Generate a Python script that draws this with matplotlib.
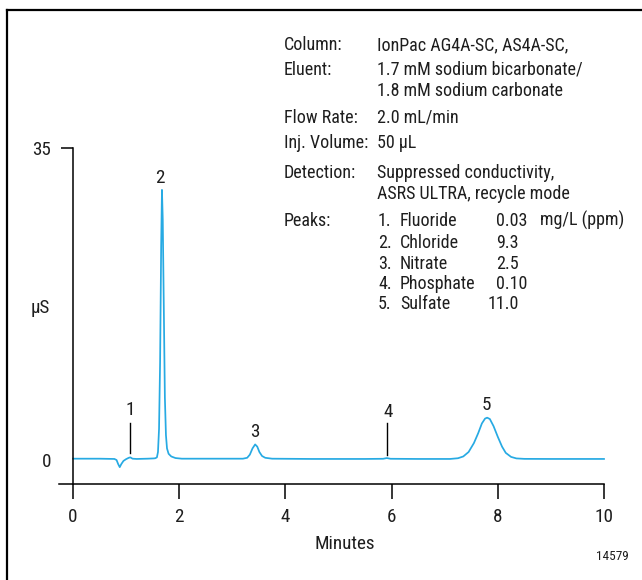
import matplotlib
matplotlib.use("Agg")
import matplotlib.pyplot as plt
from matplotlib.lines import Line2D
from matplotlib import font_manager as fm

# ---------------- data ----------------
time_min = [0.00, 0.50, 0.78, 0.82, 0.85, 0.88, 0.91, 0.95, 1.00, 1.05, 1.08, 1.12,
            1.20, 1.40, 1.52, 1.55, 1.58, 1.60, 1.62, 1.64, 1.66, 1.675, 1.69, 1.71,
            1.73, 1.75, 1.77, 1.80, 1.85, 1.93, 2.05, 2.50, 3.20, 3.28, 3.33, 3.38,
            3.43, 3.47, 3.51, 3.56, 3.62, 3.75, 4.50, 5.50, 5.84, 5.91, 5.98, 6.50,
            7.10, 7.25, 7.35, 7.45, 7.55, 7.63, 7.70, 7.76, 7.80, 7.85, 7.92, 8.00,
            8.08, 8.15, 8.25, 8.35, 8.50, 9.00, 10.00]
signal_uS = [0.15, 0.15, 0.12, 0.0, -0.45, -0.8, -0.45, -0.1, 0.1, 0.25, 0.3, 0.15,
             0.12, 0.15, 0.18, 0.2, 0.3, 0.9, 3.5, 11.0, 24.0, 30.3, 27.0, 17.0,
             7.0, 2.8, 1.3, 0.7, 0.4, 0.22, 0.15, 0.15, 0.15, 0.25, 0.6, 1.3,
             1.75, 1.5, 0.9, 0.45, 0.25, 0.15, 0.12, 0.12, 0.14, 0.22, 0.14, 0.12,
             0.12, 0.2, 0.4, 0.9, 1.9, 3.0, 4.1, 4.65, 4.75, 4.6, 3.8, 2.6,
             1.5, 0.8, 0.35, 0.18, 0.13, 0.12, 0.12]

peak_numbers = ["1", "2", "3", "4", "5"]
peak_times = [1.07, 1.64, 3.43, 5.93, 7.78]
peak_label_levels = [5.6, 31.6, 3.1, 5.4, 6.2]
marker_peaks = [1.07, 5.91]          # peaks marked with a vertical line
marker_tops = [4.2, 4.15]
marker_bottoms = [0.8, 0.56]

x_ticks = [0, 2, 4, 6, 8, 10]
y_ticks = [0, 35]

info_labels = ["Column:", "Eluent:", "", "Flow Rate:", "Inj. Volume:", "Detection:", "", "Peaks:"]
info_values = ["IonPac AG4A-SC, AS4A-SC,", "1.7 mM sodium bicarbonate/", "1.8 mM sodium carbonate",
               "2.0 mL/min", "50 µL", "Suppressed conductivity,", "ASRS ULTRA, recycle mode"]
peak_names = ["Fluoride", "Chloride", "Nitrate", "Phosphate", "Sulfate"]
peak_conc = ["0.03", "9.3", "2.5", "0.10", "11.0"]
conc_unit = "mg/L (ppm)"

# ---------------- font: prefer a condensed sans ----------------
def pick_font():
    entries = fm.fontManager.ttflist
    def ok(e):
        return e.style == "normal" and str(e.weight) in ("400", "normal", "regular", "book")
    cond_words = ("condensed", "narrow")
    pref_names = ["Liberation Sans Narrow", "Roboto Condensed", "Noto Sans Condensed",
                  "DejaVu Sans Condensed", "Open Sans Condensed"]
    for n in pref_names:
        for e in entries:
            if e.name == n and ok(e):
                return e.fname
    for base in ["Noto Sans", "Roboto", "DejaVu Sans", "Open Sans", "Liberation Sans", "Inter", "Lato"]:
        for e in entries:
            if e.name == base and ok(e) and str(e.stretch) in ("condensed", "semi-condensed"):
                if "extra" not in e.fname.lower() and "ultra" not in e.fname.lower():
                    return e.fname
    for e in entries:
        fn = e.fname.lower()
        if any(w in fn for w in cond_words) and ok(e) and "extra" not in fn and "ultra" not in fn \
                and "mono" not in fn:
            return e.fname
    return None

cond_path = pick_font()
if cond_path:
    def FP(size):
        return fm.FontProperties(fname=cond_path, size=size)
else:
    def FP(size):
        return fm.FontProperties(family="Liberation Sans", size=size * 0.9)
base_fs = 13.8

W, H = 642, 580
fig = plt.figure(figsize=(W / 100, H / 100), dpi=100)

def fx(px):
    return px / W

def fy(py):
    return 1 - py / H

ax = fig.add_axes([fx(59), fy(484), (604 - 59) / W, (484 - 148) / H])
ax.set_xlim(-0.264, 10)
ax.set_ylim(-2.69, 35)

blue = "#27aae3"
ax.plot(time_min, signal_uS, color=blue, lw=1.25, solid_joinstyle="round", clip_on=False)

txt_col = "#1e1e1e"
for t, lo, hi in zip(marker_peaks, marker_bottoms, marker_tops):
    ax.plot([t, t], [lo, hi], color="black", lw=1.0)
for lab, t, lv in zip(peak_numbers, peak_times, peak_label_levels):
    ax.text(t, lv, lab, ha="center", va="center", fontproperties=FP(base_fs), color=txt_col)

for s in ["top", "right"]:
    ax.spines[s].set_visible(False)
ax.spines["left"].set_position(("data", 0))
ax.spines["left"].set_bounds(-2.69, 35)
for s in ["left", "bottom"]:
    ax.spines[s].set_linewidth(1.1)
    ax.spines[s].set_color("black")

ax.set_xticks(x_ticks)
ax.set_xticklabels([str(v) for v in x_ticks])
ax.set_yticks(y_ticks)
ax.set_yticklabels([str(v) for v in y_ticks])
ax.tick_params(axis="x", direction="out", length=11, width=1.1, pad=6.5)
ax.tick_params(axis="y", direction="out", length=8.5, width=1.1, pad=7)
ax.yaxis.get_major_ticks()[0].tick1line.set_visible(False)
for lbl in ax.get_xticklabels() + ax.get_yticklabels():
    lbl.set_fontproperties(FP(base_fs))
    lbl.set_color(txt_col)

ax.set_xlabel("Minutes", fontproperties=FP(base_fs), color=txt_col)
ax.xaxis.set_label_coords(0.524, -0.152)
ax.set_ylabel("µS", fontproperties=FP(base_fs), rotation=0, va="center", ha="center", color=txt_col)
ax.yaxis.set_label_coords((40 - 59) / 545, (484 - 308) / 336)

# info block (rows given as glyph-centre pixel rows; drawn on the baseline)
fs = 13
bl = 6
lab_x, val_x = 284, 377
label_rows = [44, 69, None, 117, 142, 172, None, 220]
value_rows = [44, 69, 90, 117, 142, 172, 193]
for lab, row in zip(info_labels, label_rows):
    if lab:
        fig.text(fx(lab_x), fy(row + bl), lab, fontproperties=FP(fs), va="baseline", ha="left", color=txt_col)
for val, row in zip(info_values, value_rows):
    fig.text(fx(val_x), fy(row + bl), val, fontproperties=FP(fs), va="baseline", ha="left", color=txt_col)
peak_rows = [220, 242, 263, 283, 303]
for i, (name, conc, row) in enumerate(zip(peak_names, peak_conc, peak_rows)):
    fig.text(fx(378), fy(row + bl), f"{i + 1}.", fontproperties=FP(fs), va="baseline", ha="left", color=txt_col)
    fig.text(fx(400), fy(row + bl), name, fontproperties=FP(fs), va="baseline", ha="left", color=txt_col)
    cx = 488 if conc == "11.0" else 496
    fig.text(fx(cx), fy(row + bl), conc, fontproperties=FP(fs), va="baseline", ha="left", color=txt_col)
fig.text(fx(540), fy(peak_rows[0] + bl), conc_unit, fontproperties=FP(fs), va="baseline", ha="left", color=txt_col)

fig.text(fx(612), fy(557), "14579", fontproperties=FP(9.5), ha="center", va="center", color=txt_col)

# outer frame (top and left edges)
fig.add_artist(Line2D([fx(7), 1], [fy(10), fy(10)], transform=fig.transFigure, color="black", lw=1.6))
fig.add_artist(Line2D([fx(7), fx(7)], [fy(10), 0], transform=fig.transFigure, color="black", lw=1.6))

fig.savefig("out.png", dpi=100)
